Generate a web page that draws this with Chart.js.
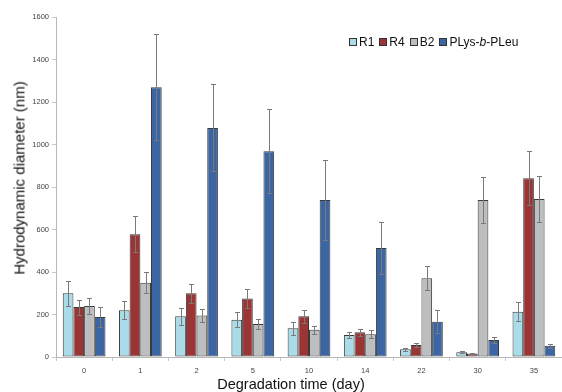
<!DOCTYPE html>
<html>
<head>
<meta charset="utf-8">
<script src="https://cdn.jsdelivr.net/npm/chart.js@4"></script>
<style>
  html, body { margin: 0; padding: 0; background: #fff; overflow: hidden; }
  #wrap { position: relative; width: 562px; height: 392px; font-family: "Liberation Sans", Arial, sans-serif; }
  #legend { position: absolute; left: 349px; top: 35px; display: flex; align-items: center; font-size: 12px; color: #111; }
  #legend .item { display: flex; align-items: center; margin-right: 5px; }
  #legend .box { width: 8px; height: 8px; border: 1px solid #333; margin-right: 2px; box-sizing: border-box; }
  .ytitle { position: absolute; left: 19px; top: 178px; transform: translate(-50%, -50%) rotate(-90deg); white-space: nowrap; font-size: 15px; color: #111; }
  .xtitle { position: absolute; left: 291px; top: 384px; transform: translate(-50%, -50%); white-space: nowrap; font-size: 14.5px; color: #111; }
</style>
</head>
<body>
<div id="wrap">
  <canvas id="chart" width="562" height="392"></canvas>
  <div id="legend"></div>
  <div class="ytitle">Hydrodynamic diameter (nm)</div>
  <div class="xtitle">Degradation time (day)</div>
</div>
<script>
// --- Data ---
const days = ['0', '1', '2', '5', '10', '14', '22', '30', '35'];

const r1Values  = [300, 220, 192, 175, 135, 104, 36, 22, 213];
const r1Errors  = [58, 42, 40, 35, 30, 16, 8, 5, 44];

const r4Values  = [235, 578, 300, 275, 192, 116, 57, 17, 841];
const r4Errors  = [35, 85, 45, 45, 30, 18, 9, 3, 128];

const b2Values  = [240, 350, 195, 155, 128, 107, 371, 739, 743];
const b2Errors  = [36, 50, 30, 25, 20, 18, 56, 108, 108];

const plysValues = [188, 1270, 1078, 968, 739, 513, 166, 80, 53];
const plysErrors = [47, 248, 205, 198, 190, 121, 54, 14, 10];

const seriesNames = ['R1', 'R4', 'B2', 'PLys-<i>b</i>-PLeu'];
const seriesColors = ['#a9dce8', '#9b3434', '#bdbec0', '#3b66a3'];

// --- Error bars drawn from the y scale ---
const errorBarPlugin = {
  id: 'errorBars',
  afterDatasetsDraw(chart) {
    const ctx = chart.ctx;
    const yScale = chart.scales.y;
    ctx.save();
    ctx.strokeStyle = '#7a7a7a';
    ctx.lineWidth = 1;
    chart.data.datasets.forEach((ds, i) => {
      const meta = chart.getDatasetMeta(i);
      meta.data.forEach((bar, j) => {
        const v = ds.data[j];
        const e = ds.errors[j];
        const x = Math.round(bar.x) + 0.5;
        const top = Math.round(yScale.getPixelForValue(v + e)) + 0.5;
        const bot = Math.round(yScale.getPixelForValue(v - e)) + 0.5;
        ctx.beginPath();
        ctx.moveTo(x, top); ctx.lineTo(x, bot);
        ctx.moveTo(x - 2.5, top); ctx.lineTo(x + 2.5, top);
        ctx.moveTo(x - 2.5, bot); ctx.lineTo(x + 2.5, bot);
        ctx.stroke();
      });
    });
    ctx.restore();
  }
};

function makeDataset(label, values, errors, color) {
  return {
    label: label,
    data: values,
    errors: errors,
    backgroundColor: color,
    borderColor: '#3a3a3a',
    borderWidth: 1,
    borderSkipped: false,
    categoryPercentage: 0.76,
    barPercentage: 1.0
  };
}

// --- Legend (HTML so the b can be italic) ---
const legend = document.getElementById('legend');
seriesNames.forEach((name, i) => {
  const item = document.createElement('div');
  item.className = 'item';
  item.innerHTML = `<span class="box" style="background:${seriesColors[i]}"></span><span>${name}</span>`;
  legend.appendChild(item);
});

const tickFont = { family: '"Liberation Sans", Arial, sans-serif', size: 7.5 };

new Chart(document.getElementById('chart').getContext('2d'), {
  type: 'bar',
  data: {
    labels: days,
    datasets: [
      makeDataset('R1', r1Values, r1Errors, seriesColors[0]),
      makeDataset('R4', r4Values, r4Errors, seriesColors[1]),
      makeDataset('B2', b2Values, b2Errors, seriesColors[2]),
      makeDataset('PLys-b-PLeu', plysValues, plysErrors, seriesColors[3])
    ]
  },
  options: {
    responsive: false,
    animation: false,
    layout: { padding: { top: 17, right: 0, bottom: 0, left: 0 } },
    plugins: {
      legend: { display: false },
      tooltip: { enabled: false }
    },
    scales: {
      x: {
        offset: true,
        grid: { display: true, drawOnChartArea: false, offset: true, tickLength: 4, color: '#c8c8c8' },
        border: { color: '#b8b8b8' },
        ticks: { color: '#444', font: tickFont, padding: 5 },
        afterFit: (scale) => { scale.height = 35; }
      },
      y: {
        min: 0,
        max: 1600,
        ticks: { stepSize: 200, color: '#444', font: tickFont, padding: 3, callback: (v) => String(v) },
        grid: { display: true, drawOnChartArea: false, tickLength: 4, color: '#c8c8c8' },
        border: { color: '#b8b8b8' },
        afterFit: (scale) => { scale.width = 56; }
      }
    }
  },
  plugins: [errorBarPlugin]
});
</script>
</body>
</html>
